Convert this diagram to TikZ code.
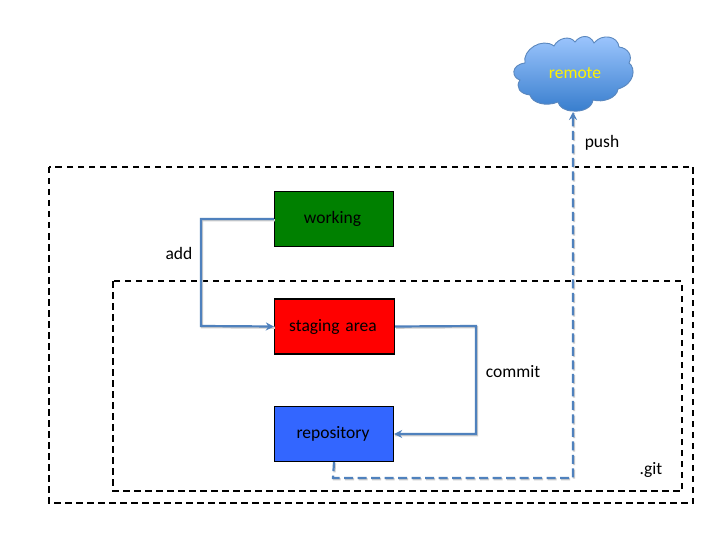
\documentclass[tikz,border=0pt]{standalone}
\usepackage{fontspec}
\setmainfont{Carlito}
\usetikzlibrary{arrows.meta,calc}
\definecolor{linkblue}{RGB}{79,129,189}
\definecolor{linkshade}{RGB}{205,205,205}
\definecolor{cloudtop}{RGB}{160,200,255}
\definecolor{cloudbot}{RGB}{55,125,205}
\definecolor{cloudedge}{RGB}{90,135,190}
\definecolor{boxgreen}{RGB}{0,128,0}
\definecolor{boxred}{RGB}{255,0,0}
\definecolor{boxblue}{RGB}{51,102,255}
\tikzset{
  x=1pt,y=-1pt,
  every node/.style={font=\fontsize{17.5}{20}\selectfont,inner sep=0pt},
  stagebox/.style={draw=black,line width=1.3pt,minimum width=119pt,minimum height=55pt,anchor=center},
  region/.style={draw=black,line width=1.6pt,dash pattern=on 6.5pt off 4.5pt},
  shade link/.style={draw=linkshade,line width=2.2pt,transform canvas={xshift=1pt,yshift=-1.2pt}},
  link/.style={draw=linkblue,line width=2.2pt,-{Stealth[length=8pt,width=8pt]}},
  dashlink/.style={link,dash pattern=on 9pt off 4.5pt},
}
\begin{document}
\begin{tikzpicture}
\useasboundingbox (0,0) rectangle (720,540);
\fill[white] (0,0) rectangle (720,540);
\draw[region] (49,167) rectangle (693,503);
\draw[region] (113,281) rectangle (682,491);
\node[stagebox,fill=boxgreen,text width=119pt,align=center] (working) at (334,219) {\hspace{-3pt}working};
\node[stagebox,fill=boxred,minimum width=120pt,text width=120pt,align=center] (staging) at (334.5,326.5) {\hspace{-3pt}staging area};
\node[stagebox,fill=boxblue,text width=119pt,align=center] (repo) at (334,434) {\hspace{-2pt}repository};
\path[draw=cloudedge,line width=0.9pt,top color=cloudtop,bottom color=cloudbot]
  (520,80) .. controls (512,78) and (510,65) .. (525,63)
  .. controls (522,50) and (542,37) .. (554,46)
  .. controls (558,38) and (570,35) .. (575,42)
  .. controls (580,35) and (590,34) .. (594,43)
  .. controls (602,33) and (618,36) .. (619,47)
  .. controls (628,48) and (633,56) .. (629,63)
  .. controls (636,68) and (635,84) .. (618,89)
  .. controls (617,98) and (603,103) .. (593,100)
  .. controls (592,108) and (582,112) .. (573,111)
  .. controls (565,111) and (559,107) .. (558,102)
  .. controls (546,107) and (532,103) .. (530,95)
  .. controls (520,94) and (515,87) .. (520,80) -- cycle;
\node[text=yellow] (remote) at (575,73) {remote};
\coordinate (addknee1) at (201,219);
\coordinate (addknee2) at (201,326);
\draw[shade link] (working.west) -- (addknee1) -- (addknee2) -- (staging.west);
\draw[link] (working.west) -- (addknee1) -- (addknee2) -- (staging.west);
\coordinate (commitknee1) at (476,326);
\coordinate (commitknee2) at (476,434);
\draw[shade link] (staging.east) -- (commitknee1) -- (commitknee2) -- (repo.east);
\draw[link] (staging.east) -- (commitknee1) -- (commitknee2) -- (repo.east);
\coordinate (pushknee1) at (333,478);
\coordinate (pushknee2) at (573,478);
\coordinate (pushend) at (573,112);
\draw[shade link,dash pattern=on 9pt off 4.5pt] (repo.south) -- (pushknee1) -- (pushknee2) -- (pushend);
\draw[dashlink] (repo.south) -- (pushknee1) -- (pushknee2) -- (pushend);
\node (add) at (179,253.5) {add};
\node (commit) at (513,372) {commit};
\node (push) at (602,142.5) {push};
\node (git) at (651,469.5) {.git};
\end{tikzpicture}
\end{document}
